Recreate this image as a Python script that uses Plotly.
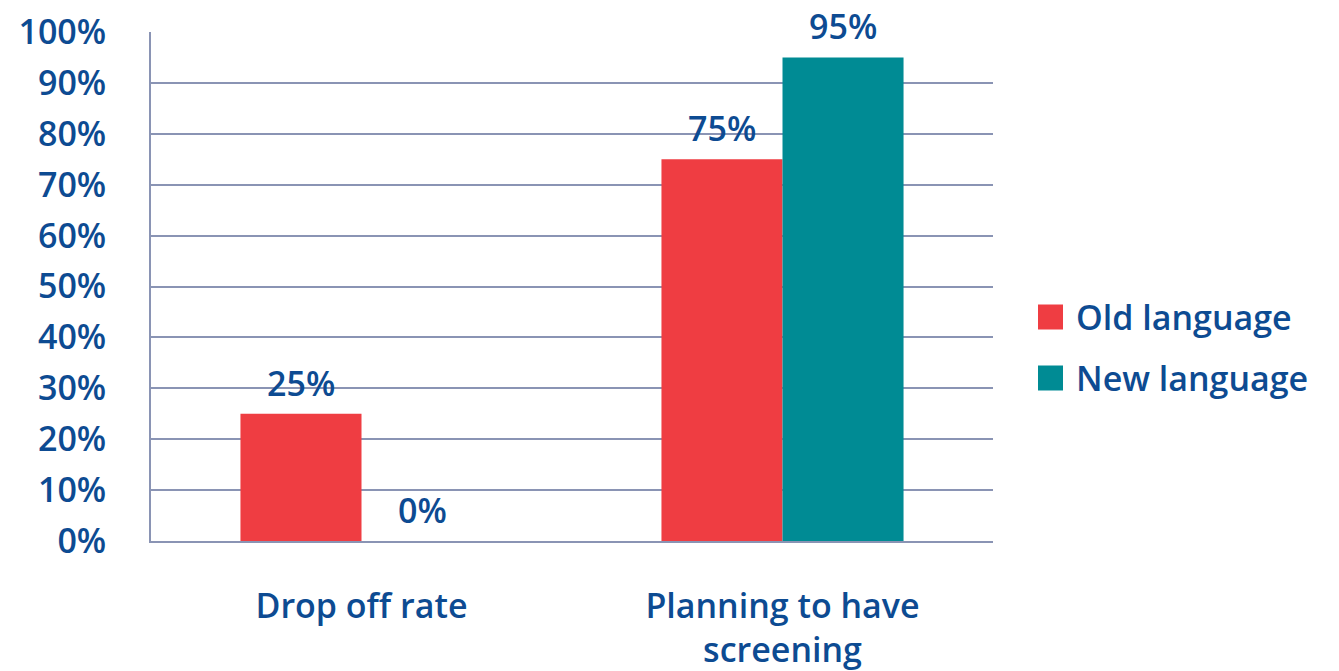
import plotly.graph_objects as go

# Survey results: share of respondents per outcome, by wording of the invitation
categories = ["Drop off rate", "Planning to have<br>screening"]
series_names = ["Old language", "New language"]
old_values = [0.25, 0.75]
new_values = [0.00, 0.95]
y_ticks = [i / 10 for i in range(11)]

RED = "#EF3D42"
TEAL = "#008B94"
TEXT = "#0D4B92"
GRID = "#8A94B4"
FONT = "Open Sans"
FS = 34
WEIGHT = 600

W, H = 1339, 671
L, R, T, B = 151, 346, 32, 130
plot_w = W - L - R
plot_h = H - T - B

font = dict(family=FONT, size=FS, color=TEXT, weight=WEIGHT)

fig = go.Figure()
for name, vals, col in [(series_names[0], old_values, RED), (series_names[1], new_values, TEAL)]:
    fig.add_trace(go.Bar(
        x=categories, y=vals, name=name, marker=dict(color=col, line=dict(width=0)),
        showlegend=False,
    ))

# value labels above each bar
bar_px = plot_w / 2 * (1 - 0.425) / 2
for vals, shift in [(old_values, -bar_px / 2), (new_values, bar_px / 2)]:
    for cat, v in zip(categories, vals):
        fig.add_annotation(
            x=cat, y=v, xref="x", yref="y", text=f"{v:.0%}", showarrow=False,
            yanchor="bottom", xshift=shift, yshift=6, font=font,
        )

# legend drawn as coloured squares with labels
def px_x(px):
    return (px - L) / plot_w

def px_y(py):
    return (H - B - py) / plot_h

for name, col, cy in [(series_names[0], RED, 317), (series_names[1], TEAL, 378)]:
    fig.add_shape(type="rect", xref="paper", yref="paper",
                  x0=px_x(1038), x1=px_x(1063), y0=px_y(cy + 12.5), y1=px_y(cy - 12.5),
                  fillcolor=col, line=dict(width=0))
    fig.add_annotation(x=px_x(1074), y=px_y(cy), xref="paper", yref="paper",
                       text=name, showarrow=False, xanchor="left", yanchor="middle",
                       font=font)

fig.update_layout(
    width=W, height=H,
    margin=dict(l=L, r=R, t=T, b=B, pad=0),
    paper_bgcolor="white", plot_bgcolor="white",
    barmode="group", bargap=0.425, bargroupgap=0,
    font=font,
    showlegend=False,
)
fig.update_xaxes(
    showline=True, linecolor=GRID, linewidth=2, showgrid=False, ticks="",
    automargin=False, ticklabelstandoff=34, tickfont=font,
)
fig.update_yaxes(
    range=[0, 1], tickvals=y_ticks, tickformat=".0%", showgrid=True,
    gridcolor=GRID, gridwidth=2, showline=True, linecolor=GRID, linewidth=2,
    ticks="", ticklabelstandoff=36, zeroline=False, automargin=False,
    tickfont=font,
)

fig.write_html("out.html")
